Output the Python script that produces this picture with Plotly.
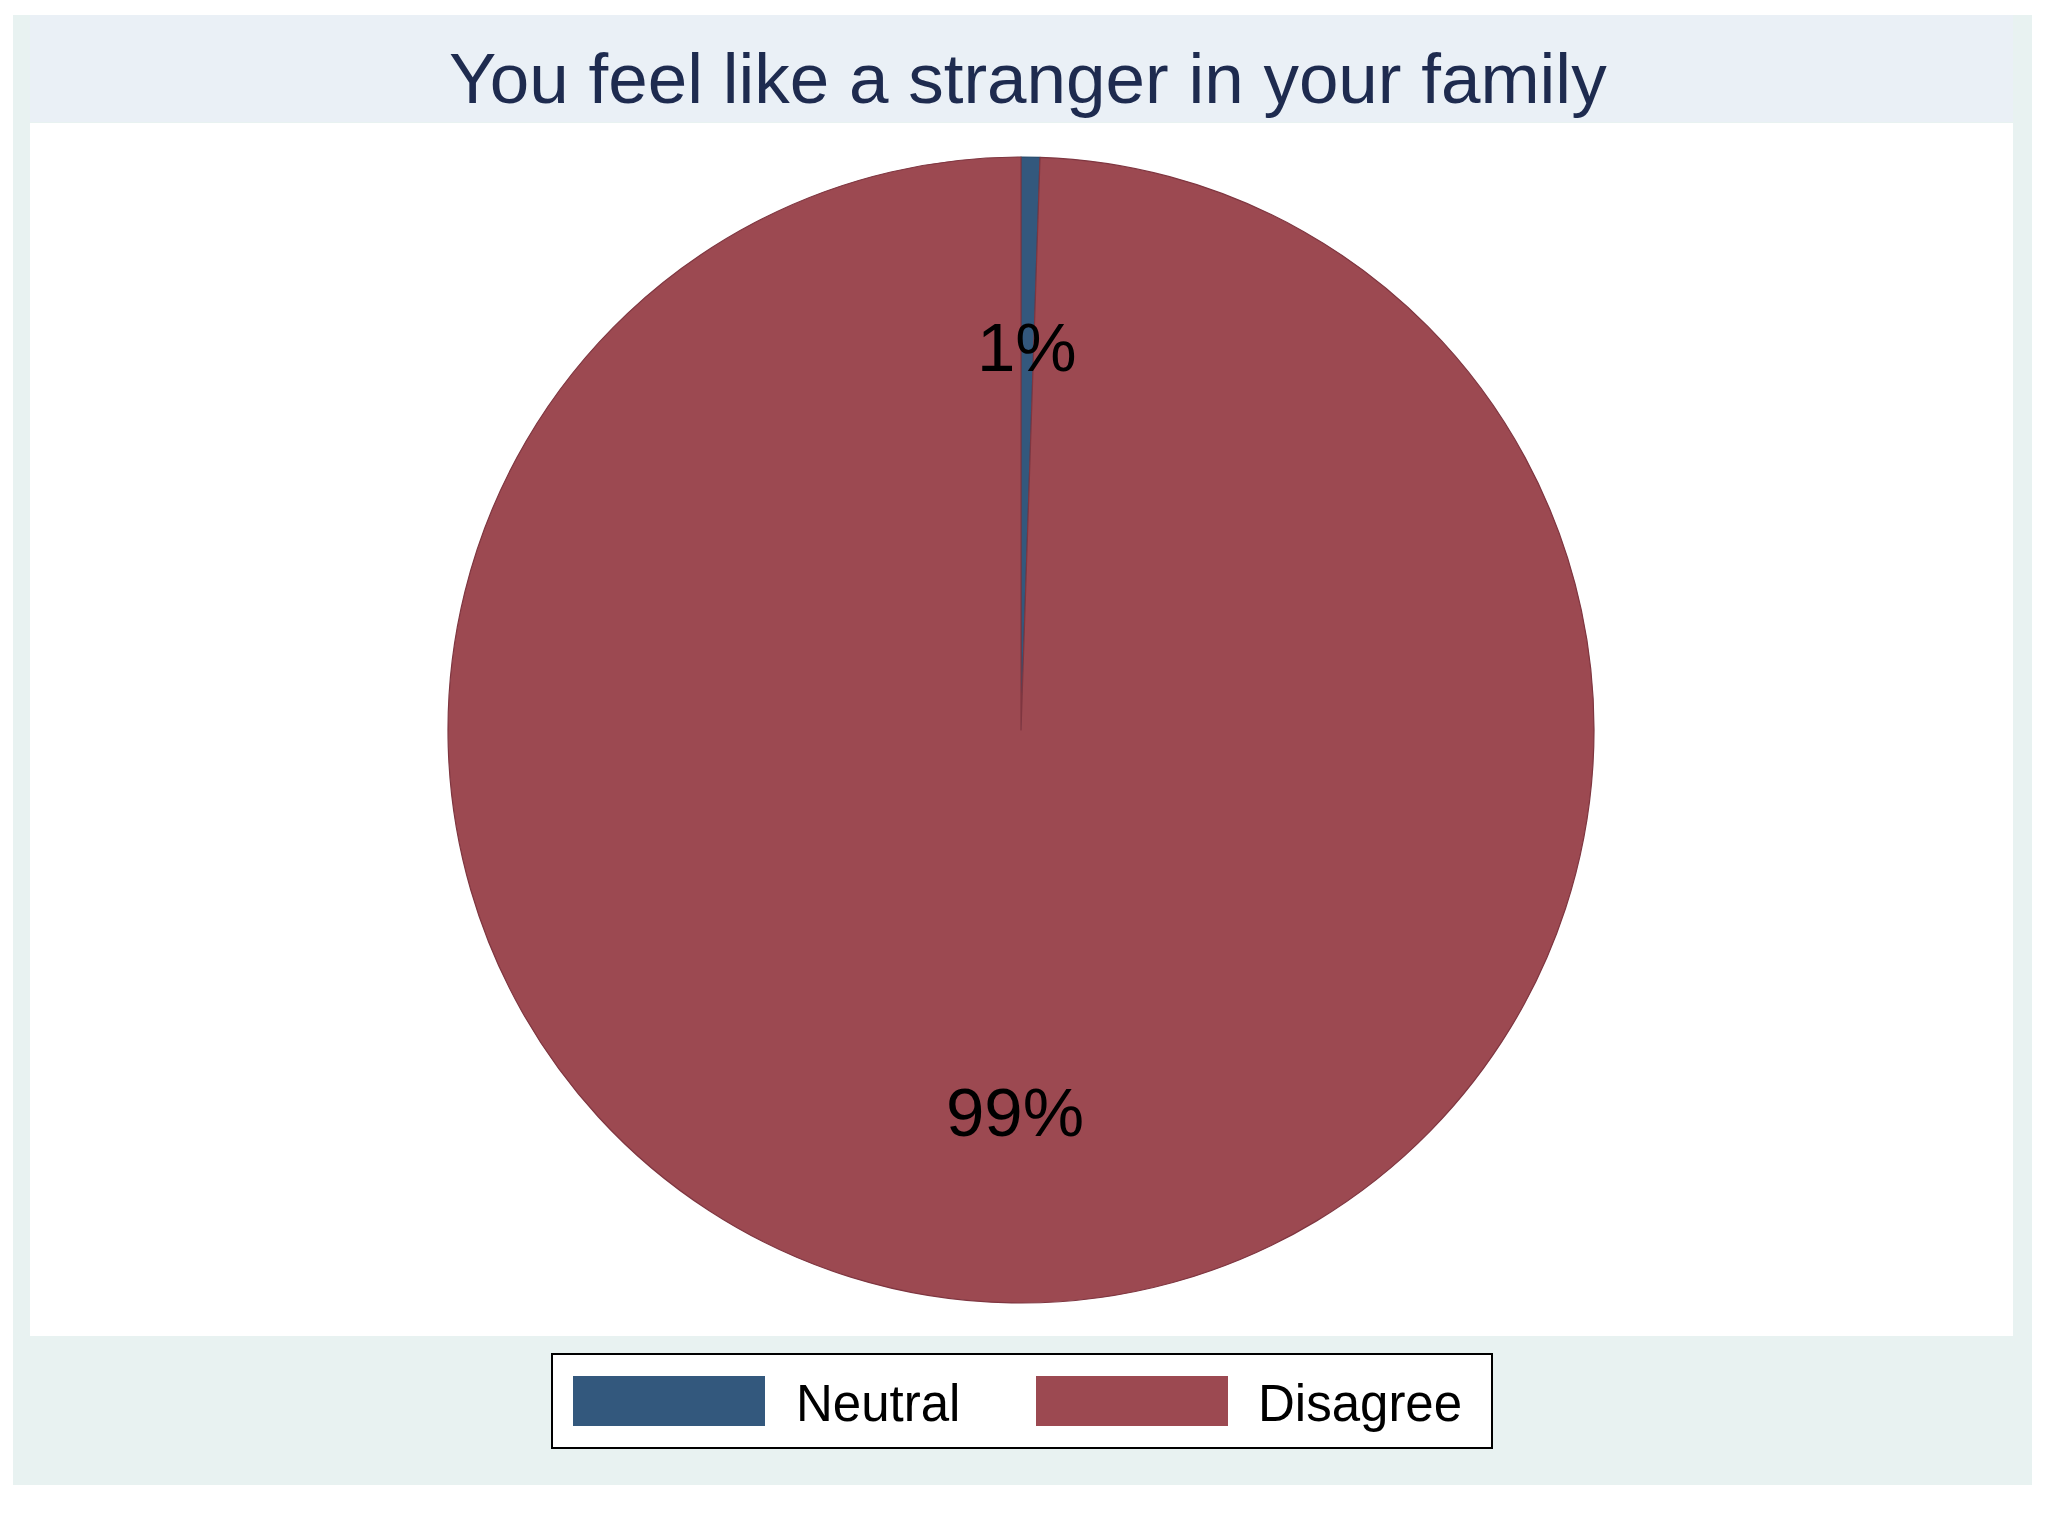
import math
import plotly.graph_objects as go

# ---- data ----
title_text = "You feel like a stranger in your family"
categories = ["Neutral", "Disagree"]
counts = [1, 188]
slice_colors = ["#33587D", "#9C4951"]
slice_edge_colors = ["#264a6b", "#7f3640"]

W, H = 2048, 1536
FONT = "Liberation Sans, Arial, Helvetica, sans-serif"

# pie geometry (pixels)
cx, cy, R = 1021, 730, 573
dom_x = [(cx - R) / W, (cx + R) / W]
dom_y = [1 - (cy + R) / H, 1 - (cy - R) / H]

fig = go.Figure()
fig.add_trace(go.Pie(
    labels=categories,
    values=counts,
    sort=False,
    direction="clockwise",
    rotation=0,
    marker=dict(colors=slice_colors, line=dict(color=slice_edge_colors, width=1.2)),
    textinfo="none",
    hoverinfo="label+percent",
    domain=dict(x=dom_x, y=dom_y),
    showlegend=False,
))

shapes = []
annotations = []

# background frames
shapes.append(dict(type="rect", xref="paper", yref="paper",
                   x0=13 / W, x1=2032 / W, y0=1 - 1485 / H, y1=1 - 15 / H,
                   fillcolor="#E8F2F1", line=dict(width=0), layer="below"))
shapes.append(dict(type="rect", xref="paper", yref="paper",
                   x0=30 / W, x1=2013 / W, y0=1 - 122 / H, y1=1 - 15 / H,
                   fillcolor="#EAF0F6", line=dict(width=0), layer="below"))
shapes.append(dict(type="rect", xref="paper", yref="paper",
                   x0=30 / W, x1=2013 / W, y0=1 - 1336 / H, y1=1 - 123 / H,
                   fillcolor="#FFFFFF", line=dict(width=0), layer="below"))

# percentage labels at slice mid-angles
total = sum(counts)
cum = 0.0
for v in counts:
    mid = (cum + v / 2) / total * 2 * math.pi
    cum += v
    rr = 0.667 * R
    px = cx + rr * math.sin(mid)
    py = cy - rr * math.cos(mid)
    annotations.append(dict(
        x=px / W, y=1 - py / H, xref="paper", yref="paper",
        text=f"{round(v / total * 100)}%", showarrow=False,
        font=dict(family=FONT, size=69, color="#000000"),
        xanchor="center", yanchor="middle"))

# legend (box, swatches, labels)
shapes.append(dict(type="rect", xref="paper", yref="paper",
                   x0=552 / W, x1=1492 / W, y0=1 - 1448 / H, y1=1 - 1354 / H,
                   fillcolor="#FFFFFF", line=dict(color="#000000", width=2)))
sw_x = [573, 1036]
tx_x = [794, 1256]
for i, name in enumerate(categories):
    shapes.append(dict(type="rect", xref="paper", yref="paper",
                       x0=sw_x[i] / W, x1=(sw_x[i] + 192) / W,
                       y0=1 - 1426 / H, y1=1 - 1376 / H,
                       fillcolor=slice_colors[i], line=dict(width=0)))
    annotations.append(dict(
        x=tx_x[i] / W, y=1 - 1403 / H, xref="paper", yref="paper",
        text=name, showarrow=False, xanchor="left", yanchor="middle",
        font=dict(family=FONT, size=51, color="#000000")))

# title
annotations.append(dict(
    x=1028 / W, y=1 - 78 / H, xref="paper", yref="paper",
    text=title_text, showarrow=False, xanchor="center", yanchor="middle",
    font=dict(family=FONT, size=71, color="#1E2B4F")))

fig.update_layout(
    width=W, height=H,
    margin=dict(l=0, r=0, t=0, b=0),
    paper_bgcolor="#FFFFFF",
    plot_bgcolor="#FFFFFF",
    shapes=shapes,
    annotations=annotations,
)

fig.write_html("out.html",
               config={"displayModeBar": False},
               post_script="document.body.style.margin='0';document.body.style.overflow='hidden';")
